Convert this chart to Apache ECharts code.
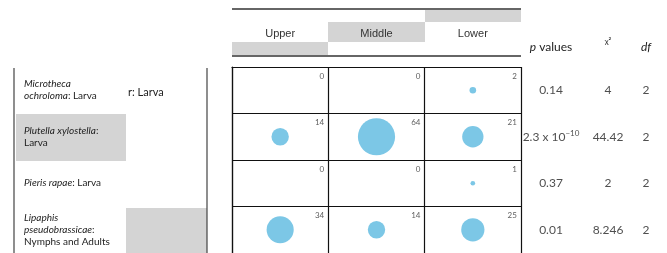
<!DOCTYPE html>
<html>
<head>
<meta charset="utf-8">
<script src="https://cdn.jsdelivr.net/npm/echarts@6/dist/echarts.min.js"></script>
<style>
  html, body { margin: 0; padding: 0; background: #fff; }
  #chart { width: 667px; height: 253px; }
</style>
</head>
<body>
<div id="chart"></div>
<script>
// columns of the host plant
const columns = ['Upper', 'Middle', 'Lower']
// insect rows: [italic name, plain rest]
const species = [
  ['Microtheca\nochroloma', ': Larva'],
  ['Plutella xylostella', ':\nLarva'],
  ['Pieris rapae', ': Larva'],
  ['Lipaphis\npseudobrassicae', ':\nNymphs and Adults']
]
// counts per row (Upper, Middle, Lower)
const counts = [
  [0, 0, 2],
  [14, 64, 21],
  [0, 0, 1],
  [34, 14, 25]
]
const pValues = ['0.14', '2.3 x 10{sup|−10}', '0.37', '0.01']
const chiSquare = ['4', '44.42', '2', '8.246']
const dfValues = ['2', '2', '2', '2']
const statHeaders = ['{i|p} values', 'χ²', '{i|df}']

const rowIdx = species.map((s, i) => String(i))
const bubbleData = []
counts.forEach((row, r) => {
  row.forEach((v, c) => {
    bubbleData.push([c, r, v])
  })
})

const calibri = 'Lato'
const textColor = '#222'

// main grid + 3 little grids for the stats columns
const statCenters = [551, 608, 647]
const grids = [{ left: 232, top: 67, width: 289, bottom: -2 }]
statCenters.forEach((c) => {
  grids.push({ left: c - 22, top: 67, width: 44, bottom: -2 })
})

const xAxes = [
  {
    type: 'category',
    gridIndex: 0,
    position: 'top',
    data: columns,
    axisLine: { show: true, lineStyle: { color: '#111', width: 1.2 } },
    axisTick: { show: false },
    axisLabel: { margin: 28, color: '#333', fontFamily: 'Liberation Sans', fontSize: 11 },
    splitLine: { show: true, lineStyle: { color: '#111', width: 1.2 } }
  }
]
const yAxes = [
  {
    type: 'category',
    gridIndex: 0,
    inverse: true,
    data: rowIdx,
    axisLine: { show: true, lineStyle: { color: '#111', width: 1.2 } },
    axisTick: { show: false },
    axisLabel: {
      interval: 0,
      align: 'left',
      margin: 208,
      color: textColor,
      fontFamily: calibri,
      fontSize: 10,
      lineHeight: 12,
      formatter: (v) => {
        const s = species[+v]
        const it = s[0].split('\n').map((t) => '{i|' + t + '}').join('\n')
        const rest = s[1].split('\n')
        let out = it + '{n|' + rest[0] + '}'
        if (rest.length > 1) out += '\n{n|' + rest[1] + '}'
        return out
      },
      rich: {
        i: { fontStyle: 'italic', fontFamily: calibri, fontSize: 10, color: textColor, lineHeight: 12 },
        n: { fontFamily: calibri, fontSize: 10, color: textColor, lineHeight: 12 }
      }
    },
    splitLine: { show: true, lineStyle: { color: '#111', width: 1.2 } }
  }
]

const series = [
  {
    type: 'scatter',
    xAxisIndex: 0,
    yAxisIndex: 0,
    data: bubbleData,
    symbolSize: (d) => 4.65 * Math.sqrt(d[2]),
    itemStyle: { color: '#7cc7e6', opacity: 1 },
    silent: true,
    z: 3
  },
  {
    type: 'scatter',
    xAxisIndex: 0,
    yAxisIndex: 0,
    data: bubbleData,
    symbolSize: 0,
    label: {
      show: true,
      position: 'inside',
      align: 'right',
      offset: [44, -14],
      fontFamily: calibri,
      fontSize: 8,
      color: '#333',
      formatter: (p) => String(p.data[2])
    },
    z: 4
  }
]

const statCols = [pValues, chiSquare, dfValues]
statCols.forEach((col, k) => {
  const g = k + 1
  xAxes.push({
    type: 'category',
    gridIndex: g,
    position: 'top',
    data: [statHeaders[k]],
    axisLine: { show: false },
    axisTick: { show: false },
    splitLine: { show: false },
    axisLabel: {
      margin: k === 1 ? 22 : 14,
      color: textColor,
      fontFamily: calibri,
      fontSize: k === 1 ? 8 : 12,
      rich: {
        i: { fontStyle: 'italic', fontFamily: calibri, fontSize: 12, color: textColor }
      }
    }
  })
  yAxes.push({
    type: 'category',
    gridIndex: g,
    inverse: true,
    data: rowIdx,
    show: false
  })
  series.push({
    type: 'scatter',
    xAxisIndex: g,
    yAxisIndex: g,
    symbolSize: 0,
    data: col.map((v, r) => [0, r, v]),
    label: {
      show: true,
      position: 'inside',
      fontFamily: calibri,
      fontSize: 12,
      color: textColor,
      formatter: (p) => p.data[2],
      rich: {
        sup: { fontSize: 8, fontFamily: calibri, color: textColor, verticalAlign: 'top', padding: [0, 0, 6, 0] }
      }
    }
  })
})

const gray = '#d4d4d4'
const graphic = [
  // header band
  { type: 'rect', shape: { x: 425, y: 10, width: 96, height: 12 }, style: { fill: gray }, silent: true },
  { type: 'rect', shape: { x: 328, y: 22, width: 97, height: 20 }, style: { fill: gray }, silent: true },
  { type: 'rect', shape: { x: 232, y: 42, width: 96, height: 13 }, style: { fill: gray }, silent: true },
  { type: 'line', shape: { x1: 232, y1: 9, x2: 521, y2: 9 }, style: { stroke: '#333', lineWidth: 1.5 }, silent: true },
  { type: 'line', shape: { x1: 232, y1: 56, x2: 521, y2: 56 }, style: { stroke: '#333', lineWidth: 1.5 }, silent: true },
  // left table
  { type: 'rect', shape: { x: 16, y: 114, width: 110, height: 47 }, style: { fill: gray }, silent: true, z: -1 },
  { type: 'rect', shape: { x: 126, y: 208, width: 81, height: 45 }, style: { fill: gray }, silent: true, z: -1 },
  { type: 'line', shape: { x1: 14, y1: 68, x2: 14, y2: 253 }, style: { stroke: '#444', lineWidth: 1.2 }, silent: true },
  { type: 'line', shape: { x1: 207, y1: 68, x2: 207, y2: 253 }, style: { stroke: '#444', lineWidth: 1.2 }, silent: true },
  { type: 'text', x: 128, y: 92, style: { text: 'r: Larva', fill: textColor, font: '11px Lato', textVerticalAlign: 'middle' }, silent: true }
]

const chart = echarts.init(document.getElementById('chart'))
chart.setOption({
  animation: false,
  grid: grids,
  xAxis: xAxes,
  yAxis: yAxes,
  series,
  graphic
})
</script>
</body>
</html>
